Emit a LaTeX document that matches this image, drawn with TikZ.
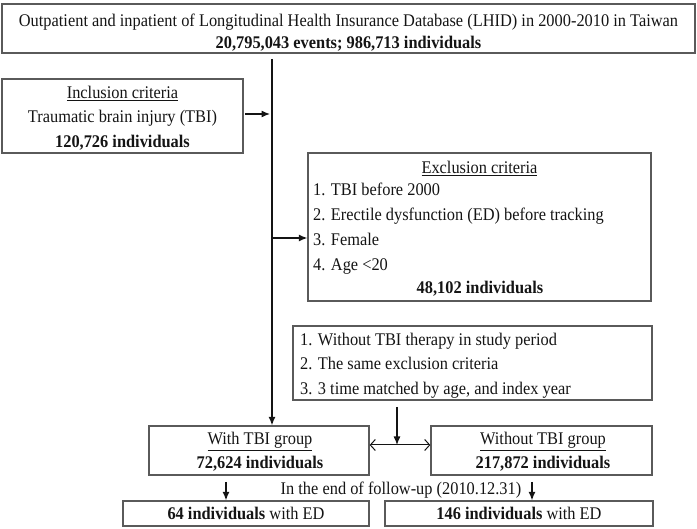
\documentclass[tikz,border=0pt]{standalone}
\usepackage{fontspec}
\setmainfont{Liberation Serif}[FakeStretch=0.92]
\usetikzlibrary{arrows.meta}
\definecolor{boxgray}{HTML}{5A5A5A}
\definecolor{ink}{HTML}{141414}
\begin{document}
\begin{tikzpicture}[x=1pt,y=-1pt,
  box/.style={draw=boxgray, line width=1.3pt, inner sep=0pt},
  txt/.style={font=\fontsize{17.8}{20}\selectfont, text=ink, inner sep=0pt, anchor=base},
  ltxt/.style={txt, anchor=base west},
  arr/.style={draw=ink, line width=1.2pt, -{Latex[length=8.5pt,width=7pt]}},
  darr/.style={draw=ink, line width=1pt, {Straight Barb[length=5pt,width=11pt]}-{Straight Barb[length=5pt,width=11pt]}}]
\useasboundingbox (0,0) rectangle (697,529);
% boxes
\node[box, minimum width=693pt, minimum height=49pt] (topbox) at (348.5,28.5) {};
\node[box, minimum width=241pt, minimum height=74pt] (incl) at (122.5,116) {};
\node[box, minimum width=343pt, minimum height=148pt] (excl) at (479.5,227) {};
\node[box, minimum width=359pt, minimum height=74pt] (match) at (472.5,363) {};
\node[box, minimum width=220pt, minimum height=49pt] (with) at (259,450.5) {};
\node[box, minimum width=221pt, minimum height=49pt] (without) at (541.5,450.5) {};
\node[box, minimum width=246pt, minimum height=25pt] (endl) at (246,513.5) {};
\node[box, minimum width=268pt, minimum height=25pt] (endr) at (519,513.5) {};
% texts
\node[txt] (t1) at (348.5,26.5) {Outpatient and inpatient of Longitudinal Health Insurance Database (LHID) in 2000-2010 in Taiwan};
\node[txt] (t2) at (348.5,48.5) {\textbf{20,795,043 events; 986,713 individuals}};
\node[txt] (i1) at (122.5,98.5) {\underline{Inclusion criteria}};
\node[txt] (i2) at (122.5,122.5) {Traumatic brain injury (TBI)};
\node[txt] (i3) at (122.5,147.5) {\textbf{120,726 individuals}};
\node[txt] (e0) at (479.5,173.5) {\underline{Exclusion criteria}};
\node[ltxt] (e1) at (313,195.5) {1. TBI before 2000};
\node[ltxt] (e2) at (313,220.5) {2. Erectile dysfunction (ED) before tracking};
\node[ltxt] (e3) at (313,245.5) {3. Female};
\node[ltxt] (e4) at (313,270.5) {4. Age <20};
\node[txt] (e5) at (480,293.5) {\textbf{48,102 individuals}};
\node[ltxt] (m1) at (300,345.5) {1. Without TBI therapy in study period};
\node[ltxt] (m2) at (300,369.5) {2. The same exclusion criteria};
\node[ltxt] (m3) at (300,394.5) {3. 3 time matched by age, and index year};
\node[txt] (w1) at (260,444.5) {\underline{With TBI group}};
\node[txt] (w2) at (260,468.5) {\textbf{72,624 individuals}};
\node[txt] (o1) at (543,444.5) {\underline{Without TBI group}};
\node[txt] (o2) at (543,468.5) {\textbf{217,872 individuals}};
\node[txt] (fu) at (401,494.5) {In the end of follow-up (2010.12.31)};
\node[txt] (l1) at (246,519) {\textbf{64 individuals} with ED};
\node[txt] (r1) at (519,519) {\textbf{146 individuals} with ED};
% connectors
\coordinate (mtop) at (272,59);
\coordinate (ia) at (245,114);
\coordinate (ib) at (270,114);
\coordinate (ea) at (272,238);
\coordinate (ma) at (397,407);
\coordinate (mb) at (397,445);
\coordinate (dl) at (226,482);
\coordinate (dr) at (532,482);
\draw[arr] (mtop) -- (mtop |- with.north);
\draw[arr] (ia) -- (ib);
\draw[arr] (ea) -- (ea -| excl.west);
\draw[arr] (ma) -- (mb);
\draw[darr] (mb -| with.east) -- (mb -| without.west);
\draw[arr] (dl) -- (dl |- endl.north);
\draw[arr] (dr) -- (dr |- endr.north);
\end{tikzpicture}
\end{document}
